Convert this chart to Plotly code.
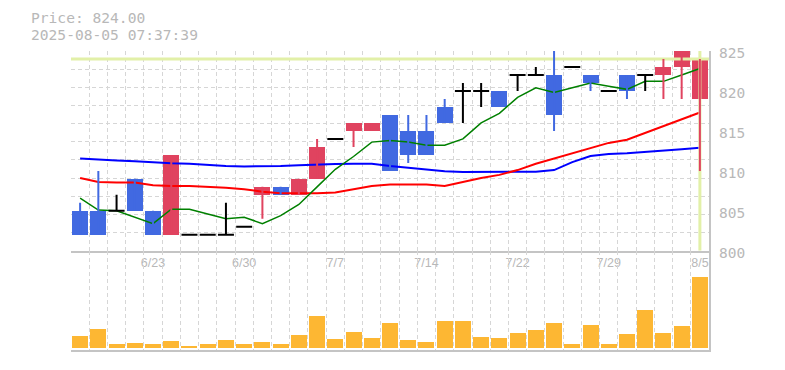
import plotly.graph_objects as go

# ---------------- data ----------------
dates = ["6/17", "6/18", "6/19", "6/20", "6/23", "6/24", "6/25", "6/26", "6/27",
         "6/30", "7/1", "7/2", "7/3", "7/4", "7/7", "7/8", "7/9", "7/10", "7/11",
         "7/14", "7/15", "7/16", "7/17", "7/18", "7/22", "7/23", "7/24", "7/25",
         "7/28", "7/29", "7/30", "7/31", "8/1", "8/4", "8/5"]
opens = [805, 805, 805, 809, 805, 802, 802, 802, 802, 803, 807, 808, 807, 809, 814,
         815, 815, 817, 815, 815, 818, 820, 820, 820, 822, 822, 822, 823, 822, 820,
         822, 822, 822, 823, 819]
highs = [806, 810, 807, 809, 805, 812, 802, 802, 806, 803, 808, 808, 809, 814, 814,
         816, 816, 817, 817, 817, 819, 821, 821, 820, 822, 823, 825, 823, 822, 820,
         822, 822, 824, 825, 824]
lows = [802, 802, 805, 805, 802, 802, 802, 802, 802, 803, 804, 807, 807, 809, 814,
        813, 815, 810, 811, 812, 816, 816, 818, 818, 820, 822, 815, 823, 820, 820,
        819, 820, 819, 819, 810]
closes = [802, 802, 805, 805, 802, 812, 802, 802, 802, 803, 808, 807, 809, 813, 814,
          816, 816, 810, 812, 812, 816, 820, 820, 818, 822, 822, 817, 823, 821, 820,
          820, 822, 823, 825, 824]
volumes = [12000, 19000, 4000, 5000, 4000, 7300, 2000, 4000, 8000, 4000, 6000, 4000,
           13000, 32000, 9000, 16300, 10000, 25000, 8000, 6000, 27000, 27000, 11000,
           10000, 15000, 18000, 25000, 4000, 23000, 4000, 14000, 38000, 15000, 22000,
           71300]
ma_short = [806.6, 805.1, 805.0, 804.2, 803.4, 805.2, 805.2, 804.6, 804.0, 804.2, 803.4,
            804.4, 805.8, 808.0, 810.2, 811.8, 813.6, 813.8, 813.6, 813.2, 813.2, 814.0,
            816.0, 817.2, 819.2, 820.4, 819.8, 820.4, 821.0, 820.6, 820.2, 821.2, 821.2,
            822.0, 822.8]
ma_mid = [809.1, 808.6, 808.55, 808.55, 808.2, 808.1, 808.1, 808.0, 807.9, 807.7, 807.4,
          807.2, 807.2, 807.2, 807.3, 807.7, 808.1, 808.3, 808.3, 808.3, 808.1, 808.6,
          809.1, 809.5, 810.1, 810.9, 811.55, 812.2, 812.9, 813.5, 813.9, 814.75, 815.6,
          816.45, 817.3]
ma_long = [811.55, 811.4, 811.3, 811.2, 811.05, 810.95, 810.9, 810.75, 810.6, 810.55,
           810.55, 810.6, 810.7, 810.8, 810.85, 810.9, 810.9, 810.6, 810.4, 810.2, 809.95,
           809.85, 809.85, 809.85, 809.9, 809.9, 810.1, 811.1, 811.85, 812.1, 812.2,
           812.35, 812.5, 812.7, 812.9]
date_tick_labels = ["6/23", "6/30", "7/7", "7/14", "7/22", "7/29", "8/5"]
price_tick_labels = [800, 805, 810, 815, 820, 825]
current_price = 824.00
timestamp = "2025-08-05 07:37:39"

# ---------------- styling ----------------
UP = "#e0435f"
DOWN = "#4169e1"
DOJI = "#000000"
VOL = "#fdb733"
GRID = "#d6d6d6"
BORDER = "#c4c4c4"
TXT = "#b8b8b8"
HL = "#e2f0a8"
BODY_W = 16 / 18.24
HALF = BODY_W / 2
P_MIN, P_MAX = 800, 825
PLOT_W = 638.6
VOL_FRAC = (350 - 250.7) / 299.3

x = list(range(len(dates)))
last = x[-1]

fig = go.Figure()

# moving averages
for vals, col, w in [(ma_long, "#0000ff", 2), (ma_mid, "#ff0000", 2), (ma_short, "#008000", 1.5)]:
    fig.add_trace(go.Scatter(x=x, y=vals, mode="lines", line=dict(color=col, width=w),
                             xaxis="x", yaxis="y", hoverinfo="skip"))

# current price lines
fig.add_trace(go.Scatter(x=[-0.5, last + 0.5], y=[current_price, current_price], mode="lines",
                         line=dict(color=HL, width=3), xaxis="x", yaxis="y", hoverinfo="skip"))
fig.add_trace(go.Scatter(x=[last, last], y=[P_MIN, P_MAX], mode="lines",
                         line=dict(color=HL, width=3), xaxis="x", yaxis="y", hoverinfo="skip"))

# wicks
groups = {UP: ([], []), DOWN: ([], []), DOJI: ([], [])}
for i in x:
    o, h, l, c = opens[i], highs[i], lows[i], closes[i]
    col = UP if c > o else (DOWN if c < o else DOJI)
    gx, gy = groups[col]
    if h > l:
        gx += [i, i, None]
        gy += [l, h, None]
    if col == DOJI:
        gx += [i - HALF, i + HALF, None]
        gy += [c, c, None]
for col, (gx, gy) in groups.items():
    fig.add_trace(go.Scatter(x=gx, y=gy, mode="lines", line=dict(color=col, width=2),
                             xaxis="x", yaxis="y", hoverinfo="skip", connectgaps=False))

# bodies
for col, cond in [(UP, lambda o, c: c > o), (DOWN, lambda o, c: c < o)]:
    idx = [i for i in x if cond(opens[i], closes[i])]
    fig.add_trace(go.Bar(x=idx, y=[abs(closes[i] - opens[i]) for i in idx],
                         base=[min(opens[i], closes[i]) for i in idx], width=BODY_W,
                         marker=dict(color=col, line=dict(width=0)),
                         xaxis="x", yaxis="y", hoverinfo="skip"))

# volume
fig.add_trace(go.Bar(x=x, y=volumes, width=BODY_W, marker=dict(color=VOL, line=dict(width=0)),
                     xaxis="x2", yaxis="y2", hoverinfo="skip"))

grid_x = dict(tickmode="linear", tick0=-0.5, dtick=1, showgrid=True, gridcolor=GRID,
              griddash="4px,3px", gridwidth=1, ticks="")

annotations = [
    dict(text=f"Price: {current_price:.2f}", xref="paper", yref="paper",
         x=(29 - 70.7) / PLOT_W, y=(350 - 17.5) / 299.3, xanchor="left", yanchor="middle",
         showarrow=False, font=dict(family="DejaVu Sans Mono", size=14.6, color=TXT)),
    dict(text=timestamp, xref="paper", yref="paper",
         x=(29 - 70.7) / PLOT_W, y=(350 - 34.2) / 299.3, xanchor="left", yanchor="middle",
         showarrow=False, font=dict(family="DejaVu Sans Mono", size=14.6, color=TXT)),
]
for v in price_tick_labels:
    annotations.append(dict(text=str(v), xref="paper", yref="y", x=1 + 8.5 / PLOT_W, y=v,
                            yshift=-2, xanchor="left", yanchor="middle", showarrow=False,
                            font=dict(family="DejaVu Sans Mono", size=14.5, color=TXT)))

fig.update_layout(
    width=785, height=370,
    margin=dict(l=70.7, r=75.7, t=50.7, b=20),
    paper_bgcolor="white", plot_bgcolor="white",
    showlegend=False, barmode="overlay", bargap=0,
    xaxis=dict(domain=[0, 1], anchor="y", range=[-0.5, last + 0.5],
               tickmode="array", tickvals=[dates.index(d) for d in date_tick_labels],
               ticktext=date_tick_labels, showgrid=False, zeroline=False, ticks="",
               minor=grid_x, showline=True, linecolor=BORDER, linewidth=2,
               tickfont=dict(family="Liberation Sans", size=12.5, color=TXT),
               ticklabelstandoff=-1),
    yaxis=dict(domain=[VOL_FRAC, 1], anchor="x", side="right", range=[P_MIN, P_MAX],
               showticklabels=False, showgrid=False, zeroline=False,
               ticks="", showline=True, linecolor=BORDER, linewidth=2,
               minor=dict(tickmode="linear", tick0=P_MIN, dtick=(P_MAX - P_MIN) / 11,
                          showgrid=True, gridcolor=GRID, griddash="4px,3px", gridwidth=1,
                          ticks="")),
    xaxis2=dict(domain=[0, 1], anchor="y2", matches="x", showticklabels=False,
                showgrid=False, zeroline=False, ticks="", minor=grid_x,
                showline=True, linecolor=BORDER, linewidth=2),
    yaxis2=dict(domain=[0, VOL_FRAC], anchor="x2", side="right", range=[-2000, 97300],
                showticklabels=False, showgrid=False, zeroline=False, ticks="",
                showline=True, linecolor=BORDER, linewidth=2),
    annotations=annotations,
)

fig.write_html("out.html", config={"displayModeBar": False},
               post_script="document.body.style.margin='0';")
